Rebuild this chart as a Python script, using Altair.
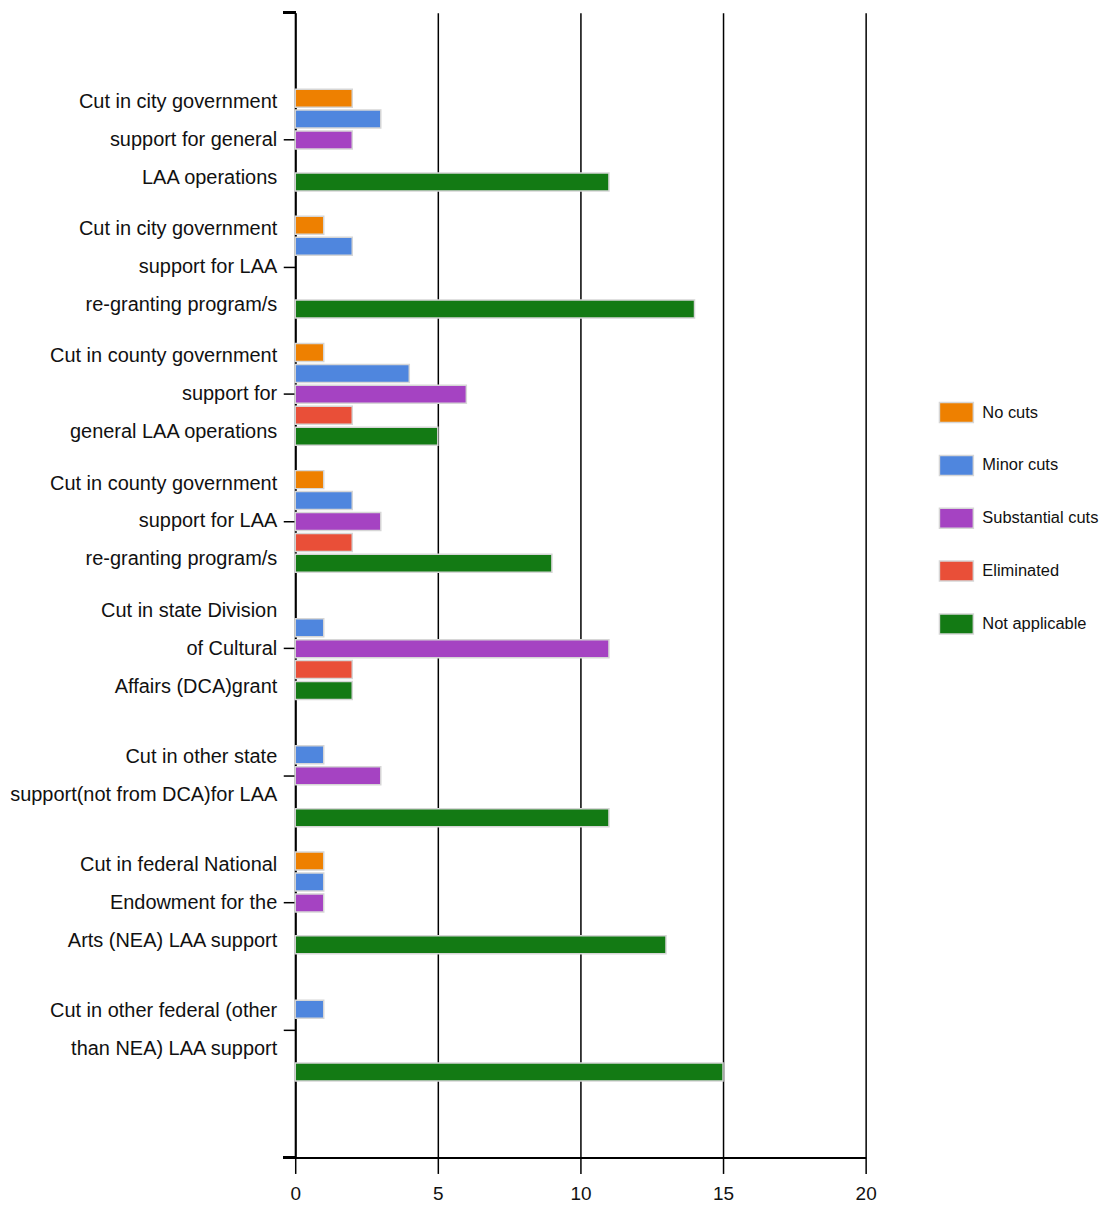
import altair as alt
import pandas as pd

categories = [
    "Cut in city government|support for general|LAA operations",
    "Cut in city government|support for LAA|re-granting program/s",
    "Cut in county government|support for|general LAA operations",
    "Cut in county government|support for LAA|re-granting program/s",
    "Cut in state Division|of Cultural|Affairs (DCA)grant",
    "Cut in other state|support(not from DCA)for LAA",
    "Cut in federal National|Endowment for the|Arts (NEA) LAA support",
    "Cut in other federal (other|than NEA) LAA support",
]
series = ["No cuts", "Minor cuts", "Substantial cuts", "Eliminated", "Not applicable"]
colors = ["#EE8000", "#4F86DE", "#A543C2", "#E94F38", "#137A14"]

no_cuts = [2, 1, 1, 1, 0, 0, 1, 0]
minor_cuts = [3, 2, 4, 2, 1, 1, 1, 1]
substantial_cuts = [2, 0, 6, 3, 11, 3, 1, 0]
eliminated = [0, 0, 2, 2, 2, 0, 0, 0]
not_applicable = [11, 14, 5, 9, 2, 11, 13, 15]

values = [no_cuts, minor_cuts, substantial_cuts, eliminated, not_applicable]
rows = []
for s, vals in zip(series, values):
    for c, v in zip(categories, vals):
        rows.append({"category": c, "series": s, "value": v})
df = pd.DataFrame(rows)

labels_df = pd.DataFrame({
    "category": categories,
    "nlines": [c.count("|") + 1 for c in categories],
})

FONT = "Liberation Sans"
LINE_H = 38

yscale = alt.Scale(domain=categories, paddingInner=0.2, paddingOuter=0.602)

bars = alt.Chart(df).transform_filter(alt.datum.value > 0).mark_bar(
    stroke="#d6d6d6", strokeWidth=1.5
).encode(
    x=alt.X("value:Q",
            scale=alt.Scale(domain=[0, 20], nice=False),
            axis=alt.Axis(values=[0, 5, 10, 15, 20], title=None, grid=True,
                          gridColor="#000", gridWidth=1.5, gridOpacity=1,
                          domainColor="#000", domainWidth=2,
                          tickColor="#000", tickWidth=1.5, tickSize=16,
                          labelFont=FONT, labelFontSize=19, labelColor="#111",
                          labelPadding=11, labelFlush=False)),
    y=alt.Y("category:N", sort=categories, scale=yscale,
            axis=alt.Axis(title=None, labels=False,
                          domainColor="#000", domainWidth=2,
                          tickColor="#000", tickWidth=1.5, tickSize=12)),
    yOffset=alt.YOffset("series:N", sort=series,
                        scale=alt.Scale(domain=series, paddingInner=0.14, paddingOuter=0)),
    color=alt.Color("series:N", sort=series,
                    scale=alt.Scale(domain=series, range=colors),
                    legend=alt.Legend(title=None, orient="none",
                                      legendX=645, legendY=383,
                                      symbolType="M-1,-0.59H1V0.59H-1Z",
                                      symbolSize=1156, symbolStrokeColor="#d6d6d6",
                                      symbolStrokeWidth=1.5,
                                      labelFont=FONT, labelFontSize=16.5,
                                      labelColor="#111", rowPadding=21,
                                      labelOffset=8, labelLimit=300)),
)


def label_layer(n):
    return alt.Chart(labels_df).transform_filter(
        alt.datum.nlines == n
    ).mark_text(
        align="right", baseline="middle", lineBreak="|",
        lineHeight=LINE_H, dy=-(n - 1) * LINE_H / 2,
        font=FONT, fontSize=20, color="#111",
    ).encode(
        x=alt.value(-18),
        y=alt.Y("category:N", sort=categories, scale=yscale),
        text="category:N",
    )


top_tick = alt.Chart(df).mark_rule(color="#000", strokeWidth=2).encode(
    x=alt.value(-12), x2=alt.value(0), y=alt.value(0))
bottom_ext = alt.Chart(df).mark_rule(color="#000", strokeWidth=2).encode(
    x=alt.value(-12), x2=alt.value(0), y=alt.value(1148))

chart = alt.layer(bars, label_layer(3), label_layer(2), top_tick, bottom_ext).properties(
    width=572, height=1148, padding=2, background="white"
).configure_view(stroke=None)

chart.save("out.html", embed_options={"renderer": "svg", "actions": False})
